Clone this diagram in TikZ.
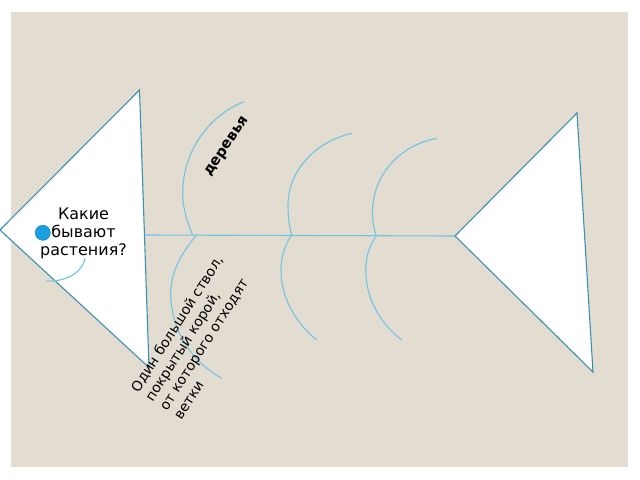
\documentclass[tikz,border=0pt]{standalone}
\usepackage{fontspec}
\setmainfont{DejaVu Sans}
\definecolor{bgc}{HTML}{E3DDD1}
\definecolor{edgec}{HTML}{3D90B4}
\definecolor{bonec}{HTML}{72C3E2}
\definecolor{dotc}{HTML}{1BA1E2}
\definecolor{dotb}{HTML}{1784BA}
\tikzset{
  finbox/.style={draw=edgec, line width=1.1bp, fill=white, line join=miter},
  bone/.style={draw=bonec, line width=1.1bp},
  plaintext/.style={inner sep=0pt, text=black},
}
\begin{document}
\begin{tikzpicture}[x=1bp,y=-1bp]
\useasboundingbox (0,0) rectangle (640,480);
\fill[bgc] (11,12) rectangle (628,467);
% head
\coordinate (hT) at (0,230);
\coordinate (hA) at (139.5,90);
\coordinate (hB) at (149,367.5);
\filldraw[finbox] (hT) -- (hA) -- (hB) -- cycle;
% tail
\coordinate (tT) at (455,236);
\coordinate (tA) at (577,113);
\coordinate (tB) at (593,372);
\filldraw[finbox] (tT) -- (tA) -- (tB) -- cycle;
% spine
\coordinate (sp0) at (144.5,235);
\draw[bone] (sp0) -- (tT);
% ribs pair 1
\draw[bone] (192.7,235) .. controls (186.5,221) and (182.7,207) .. (182.7,193.3)
  .. controls (182.7,150) and (210,115) .. (244,101.7);
\draw[bone] (196.7,235) .. controls (182,252) and (170.7,272) .. (170.7,293.3)
  .. controls (170.7,330) and (192,362) .. (221.7,378.3);
% ribs pair 2
\draw[bone] (291.7,235) .. controls (289,226) and (288,215) .. (288,205)
  .. controls (288,172) and (314,142) .. (351.7,133.3);
\draw[bone] (291.7,235) .. controls (284,246) and (281,258) .. (281,270)
  .. controls (281,300) and (298,325) .. (316.7,340);
% ribs pair 3
\draw[bone] (376,235) .. controls (373.5,228) and (372.5,220) .. (372.5,212)
  .. controls (372.5,175) and (400,145) .. (436.7,138.3);
\draw[bone] (376,236.7) .. controls (369,246) and (365.7,258) .. (365.7,270)
  .. controls (365.7,300) and (382,325) .. (401.7,340);
% small arc in head
\draw[bone] (85,258) .. controls (82,275) and (62,282) .. (46.7,281);
% texts
\node[plaintext, align=center, font=\fontsize{16}{18.3}\selectfont] (q) at (83.5,233.5) {Какие\\бывают\\растения?};
\node[draw=dotb, fill=dotc, circle, minimum size=15bp, inner sep=0pt, line width=0.6bp] (dot) at (42.8,232.8) {};
\node[plaintext, rotate=56, anchor=base west, font=\bfseries\fontsize{14.5}{17}\selectfont] (tree) at (210,177) {деревья};
\node[plaintext, rotate=57.5, anchor=north west, align=left, font=\fontsize{14}{17}\selectfont] (desc) at (129.1,387.3) {Один большой ствол,\\покрытый корой,\\от которого отходят\\ветки};
\end{tikzpicture}
\end{document}
